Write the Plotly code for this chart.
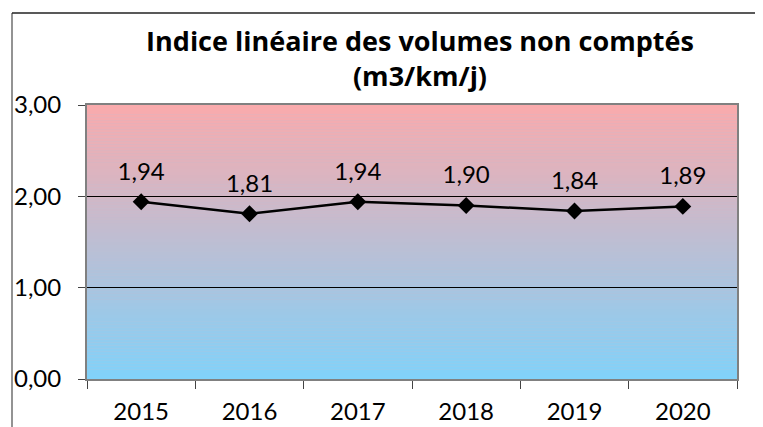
import plotly.graph_objects as go

annees = ['2015', '2016', '2017', '2018', '2019', '2020']
indice = [1.94, 1.81, 1.94, 1.90, 1.84, 1.89]
etiquettes = ['1,94', '1,81', '1,94', '1,90', '1,84', '1,89']

titre = 'Indice linéaire des volumes non comptés<br>(m3/km/j)'

# degrade du fond (bas -> haut)
bas = (128, 210, 250)
haut = (250, 170, 172)
n_bandes = 90

police = 'Lato, Carlito, Calibri, sans-serif'

fig = go.Figure()

fig.add_trace(go.Scatter(
    x=annees, y=indice,
    mode='lines+markers',
    line=dict(color='black', width=2.5),
    marker=dict(symbol='diamond', size=13, color='black'),
    hoverinfo='skip',
    showlegend=False,
))

# etiquettes de donnees (marqueur invisible pour les decaler vers le haut)
fig.add_trace(go.Scatter(
    x=annees, y=indice,
    mode='markers+text',
    text=etiquettes,
    textposition='top center',
    textfont=dict(size=24, color='black', family=police),
    marker=dict(size=24, color='rgba(0,0,0,0)'),
    hoverinfo='skip',
    showlegend=False,
))

formes = []
for i in range(n_bandes):
    f = (i + 0.5) / n_bandes
    c = tuple(round(bas[k] + (haut[k] - bas[k]) * f) for k in range(3))
    formes.append(dict(type='rect', xref='paper', yref='y', layer='below',
                       x0=0, x1=1, y0=3 * i / n_bandes, y1=3 * (i + 1) / n_bandes,
                       fillcolor='rgb(%d,%d,%d)' % c, line=dict(width=0)))

# la page ajoute 8 px de marge : tout est decale
FW, FH = 755, 419
L, T = 79, 97
W, H = 650, 274
px = lambda v: (v - 8 - L) / W
py = lambda v: (T + H - (v - 8)) / H
formes.append(dict(type='line', xref='paper', yref='paper', x0=px(12), x1=px(12),
                   y0=py(13), y1=py(440), line=dict(color='#6f6f6f', width=1.5)))
formes.append(dict(type='line', xref='paper', yref='paper', x0=px(12), x1=px(790),
                   y0=py(13), y1=py(13), line=dict(color='#222222', width=1.5)))

fig.update_layout(
    width=FW, height=FH,
    margin=dict(l=L, r=FW - L - W, t=T, b=FH - T - H, autoexpand=False),
    paper_bgcolor='white',
    plot_bgcolor='rgb(190,190,210)',
    separators=', ',
    font=dict(family=police, size=24, color='black'),
    title=dict(text=titre, x=px(420), xref='paper', xanchor='center',
               y=1 - 43 / FH, yanchor='top',
               font=dict(family='Open Sans, sans-serif', size=27, color='black',
                         weight='bold')),
    shapes=formes,
    xaxis=dict(
        type='category', range=[-0.5, 5.5], tickson='boundaries', ticks='outside',
        ticklen=8, tickcolor='#444', showgrid=False, showline=True, mirror=True,
        linecolor='#808080', linewidth=2, tickfont=dict(size=24), tickangle=0,
        automargin=False, ticklabelstandoff=10,
    ),
    yaxis=dict(
        range=[0, 3], dtick=1, tickformat='.2f', ticks='outside', ticklen=7,
        tickcolor='#444', showgrid=True, gridcolor='black', gridwidth=1,
        zeroline=False, showline=True, mirror=True, linecolor='#808080',
        linewidth=2, tickfont=dict(size=24), automargin=False,
        ticklabelstandoff=12,
    ),
)

fig.write_html('out.html')
